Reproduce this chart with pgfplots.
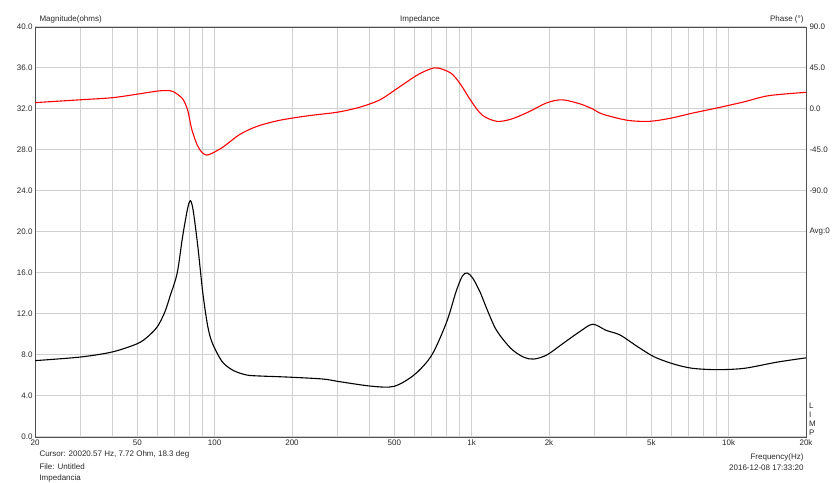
\documentclass[border=0pt]{standalone}
\usepackage{fontspec}
\setmainfont{Liberation Sans}
\usepackage{pgfplots}
\pgfplotsset{compat=1.18}
\definecolor{gridc}{RGB}{208,208,208}
\definecolor{framec}{RGB}{80,80,80}
\definecolor{txtc}{RGB}{40,40,40}
\begin{document}
\begin{tikzpicture}[font=\fontsize{8bp}{9.6bp}\selectfont, text=txtc]
\useasboundingbox (0,0) rectangle (840bp,483bp);
\begin{axis}[
  at={(35bp,46bp)}, anchor=south west,
  scale only axis, width=771bp, height=410bp,
  xmode=log, xmin=20, xmax=20000, ymin=0, ymax=40,
  xtick={20,50,100,200,500,1000,2000,5000,10000,20000},
  xticklabels={20,50,100,200,500,1k,2k,5k,10k,20k},
  minor xtick={30,40,60,70,80,90,100,300,400,600,700,800,900,1000,3000,4000,6000,7000,8000,9000,10000},
  ytick={0,4,...,40},
  grid=both,
  major grid style={gridc, line width=1bp},
  minor grid style={gridc, line width=1bp},
  major tick length=0pt, minor tick length=0pt,
  axis line style={framec, line width=0.8bp},
  /pgf/number format/assume math mode=true,
  yticklabel style={/pgf/number format/fixed, /pgf/number format/fixed zerofill, /pgf/number format/precision=1, xshift=1bp},
  xticklabel style={yshift=1bp},
  clip=true,
]
\addplot[black, line width=1.1bp, smooth, tension=0.5] coordinates {
(20,7.45) (30,7.8) (40,8.3) (50,9.1) (55,9.8) (60,10.8) (64,12.2) (67,13.7)
(71.5,16.0) (75,19.5) (78.5,22.3) (80.5,23.05) (82.5,22.1) (86,18.6) (90,14.0)
(94,10.8) (98,9.15) (107,7.35) (118,6.5) (133,6.05) (150,5.95) (191,5.85)
(263,5.66) (306,5.4) (410,4.95) (500,4.95) (600,6.1) (700,8.0) (800,11.25)
(870,14.2) (920,15.7) (960,16.0) (1010,15.5) (1080,14.1) (1150,12.4) (1250,10.4) (1420,8.65)
(1590,7.8) (1740,7.6) (1960,8.0) (2260,9.1) (2640,10.3) (2960,11.0)
(3340,10.4) (3780,9.95) (4430,8.8) (5150,7.8) (6150,7.1) (7240,6.7)
(9000,6.57) (11500,6.7) (15400,7.3) (20000,7.72)
};
\end{axis}
\begin{axis}[
  at={(35bp,46bp)}, anchor=south west,
  scale only axis, width=771bp, height=410bp,
  xmode=log, xmin=20, xmax=20000, ymin=-360, ymax=90,
  axis x line=none, axis y line*=right,
  ytick={90,45,0,-45,-90,-135},
  yticklabels={90.0,45.0,0.0,-45.0,-90.0,Avg:0},
  major tick length=0pt, minor tick length=0pt,
  axis line style={framec, line width=0.8bp},
]
\addplot[red, line width=1.1bp, smooth, tension=0.5] coordinates {
(20,7) (30,10.1) (40,12.4) (50,16.3) (60,19.7) (65,20.2) (69,19.1) (75,11.25)
(78.5,-1.1) (81.5,-22.5) (85.5,-39.4) (89,-47.3) (93,-50.6) (98,-48.4)
(108,-41.6) (125,-28.1) (146,-19.1) (179,-12.4) (230,-7.5) (302,-3.4)
(370,2.25) (440,10.1) (513,22.5) (613,37.1) (690,43.9) (740,45) (830,39.4)
(900,28.1) (1000,7.9) (1100,-6.75) (1250,-13.5) (1420,-11.25) (1660,-3.4)
(1960,6.75) (2250,10.1) (2640,5.6) (2960,0) (3230,-5.6) (4040,-12.4)
(4930,-13.5) (5950,-10.1) (7240,-4.5) (9000,1.1) (11500,7.9) (14300,14.6)
(20000,18.3)
};
\end{axis}
\node[anchor=base west] at (36bp,461bp) {Magnitude(ohms)};
\node[anchor=base] at (420bp,461bp) {Impedance};
\node[anchor=base east] at (807bp,461bp) {Phase (°)};
\node[anchor=base west] at (36bp,27bp) {Cursor: 20020.57 Hz, 7.72 Ohm, 18.3 deg};
\node[anchor=base west] at (36bp,14bp) {File: Untitled};
\node[anchor=base west] at (36bp,3bp) {Impedancia};
\node[anchor=base east] at (807bp,24bp) {Frequency(Hz)};
\node[anchor=base east] at (807bp,13bp) {2016-12-08 17:33:20};
\node[anchor=base west, inner sep=0pt] at (809bp,74bp) {L};
\node[anchor=base west, inner sep=0pt] at (809bp,65bp) {I};
\node[anchor=base west, inner sep=0pt] at (809bp,56bp) {M};
\node[anchor=base west, inner sep=0pt] at (809bp,47bp) {P};
\end{tikzpicture}
\end{document}
